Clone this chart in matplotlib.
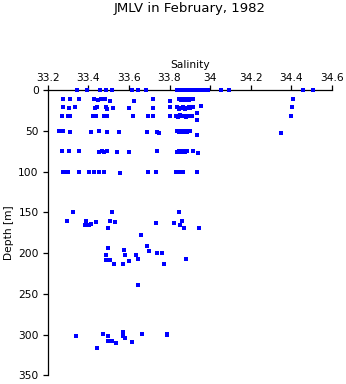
import matplotlib
matplotlib.use("Agg")
import matplotlib.pyplot as plt

# salinity / depth readings, grouped by nominal sampling level
sal_0 = [33.346, 33.392, 33.459, 33.486, 33.518, 33.614, 33.646, 33.686, 33.837, 33.847,
         33.856, 33.866, 33.884, 33.901, 33.915, 33.930, 33.945, 33.960, 33.975, 33.991,
         34.052, 34.094, 34.458, 34.508]
dep_0 = [0] * len(sal_0)

sal_10 = [33.277, 33.311, 33.353, 33.429, 33.446, 33.461, 33.484, 33.507, 33.626, 33.720,
          33.802, 33.848, 33.856, 33.866, 33.876, 33.886, 33.896, 33.906, 33.917, 34.409,
          33.953]
dep_10 = [11, 11, 11, 11, 12, 11, 11, 13, 13, 11,
          13, 11, 12, 11, 12, 11, 12, 11, 11, 11,
          19]

sal_20 = [33.277, 33.306, 33.333, 33.433, 33.441, 33.486, 33.493, 33.523, 33.602, 33.720,
          33.802, 33.835, 33.845, 33.855, 33.865, 33.875, 33.885, 33.895, 33.902, 33.917,
          34.404, 33.937]
dep_20 = [20, 22, 21, 22, 21, 21, 23, 22, 22, 22,
          21, 21, 23, 22, 21, 23, 22, 21, 22, 21,
          21, 28]

sal_30 = [33.270, 33.298, 33.311, 33.425, 33.436, 33.479, 33.492, 33.621, 33.694, 33.717,
          33.802, 33.832, 33.842, 33.852, 33.862, 33.872, 33.882, 33.892, 33.909, 33.937,
          34.398]
dep_30 = [31, 31, 31, 31, 32, 31, 32, 32, 31, 31,
          32, 31, 33, 30, 32, 31, 33, 31, 31, 37,
          31]

sal_50 = [33.257, 33.277, 33.308, 33.415, 33.453, 33.491, 33.553, 33.687, 33.737, 33.750,
          33.835, 33.845, 33.855, 33.865, 33.875, 33.885, 33.895, 33.902, 33.934, 34.349]
dep_50 = [50, 50, 51, 51, 50, 51, 51, 51, 51, 53,
          50, 51, 50, 51, 50, 51, 50, 50, 55, 52]

sal_75 = [33.269, 33.306, 33.354, 33.454, 33.467, 33.479, 33.491, 33.543, 33.602, 33.736,
          33.835, 33.845, 33.855, 33.865, 33.875, 33.884, 33.917, 33.939]
dep_75 = [75, 75, 75, 76, 75, 76, 75, 76, 76, 75,
          76, 75, 76, 75, 76, 75, 75, 77]

sal_100 = [33.274, 33.285, 33.298, 33.353, 33.405, 33.429, 33.454, 33.479, 33.556, 33.695,
           33.735, 33.830, 33.840, 33.850, 33.860, 33.867, 33.937]
dep_100 = [100, 100, 100, 100, 100, 100, 100, 100, 101, 100,
           100, 100, 100, 100, 100, 100, 100]

sal_deep = [33.323, 33.297, 33.390, 33.385, 33.405, 33.415, 33.436, 33.518, 33.508, 33.531,
            33.498, 33.661, 33.732, 33.846, 33.823, 33.853, 33.860, 33.870, 33.946,
            33.495, 33.577, 33.489, 33.581, 33.633, 33.486, 33.508, 33.528, 33.572, 33.602,
            33.646, 33.690, 33.700, 33.740, 33.761, 33.774, 33.882, 33.646]
dep_deep = [150, 160, 161, 165, 165, 164, 162, 150, 160, 162,
            169, 178, 163, 150, 163, 165, 161, 169, 169,
            194, 196, 202, 202, 202, 209, 209, 213, 213, 210,
            207, 191, 197, 200, 200, 213, 207, 239]

sal_300 = [33.338, 33.471, 33.495, 33.572, 33.572, 33.581, 33.498, 33.515, 33.535, 33.615,
           33.663, 33.786, 33.789, 33.444]
dep_300 = [302, 299, 302, 297, 302, 304, 308, 308, 310, 309,
           299, 299, 301, 317]

salinity = sal_0 + sal_10 + sal_20 + sal_30 + sal_50 + sal_75 + sal_100 + sal_deep + sal_300
depth = dep_0 + dep_10 + dep_20 + dep_30 + dep_50 + dep_75 + dep_100 + dep_deep + dep_300

xticks = [33.2, 33.4, 33.6, 33.8, 34.0, 34.2, 34.4, 34.6]
xlabels = ["33.2", "33.4", "33.6", "33.8", "34", "34.2", "34.4", "34.6"]
yticks = [0, 50, 100, 150, 200, 250, 300, 350]

plt.rcParams["font.family"] = ["DejaVu Sans"]

fig = plt.figure(figsize=(3.46, 3.84), dpi=100)
ax = fig.add_axes([0.1379, 0.0227, 0.8216, 0.7421])

ax.plot(salinity, depth, "s", color="#0000ff", markersize=2.3, markeredgewidth=0,
        clip_on=False, zorder=3)

ax.set_xlim(33.2, 34.6)
ax.set_ylim(350, 0)
ax.xaxis.set_ticks_position("top")
ax.xaxis.set_label_position("top")
ax.set_xticks(xticks)
ax.set_xticklabels(xlabels)
ax.set_yticks(yticks)
ax.tick_params(axis="both", direction="out", length=3.5, width=0.9, labelsize=7.7, pad=1.5)
ax.tick_params(axis="y", pad=3)
for side in ["right", "bottom"]:
    ax.spines[side].set_visible(False)
for side in ["left", "top"]:
    ax.spines[side].set_linewidth(0.9)

ax.set_xlabel("Salinity", fontsize=7.7, labelpad=4)
ax.set_ylabel("Depth [m]", fontsize=7.7, labelpad=3)
fig.text(0.549, 0.977, "JMLV in February, 1982", ha="center", va="center", fontsize=9.5)

fig.savefig("out.png", dpi=100)
